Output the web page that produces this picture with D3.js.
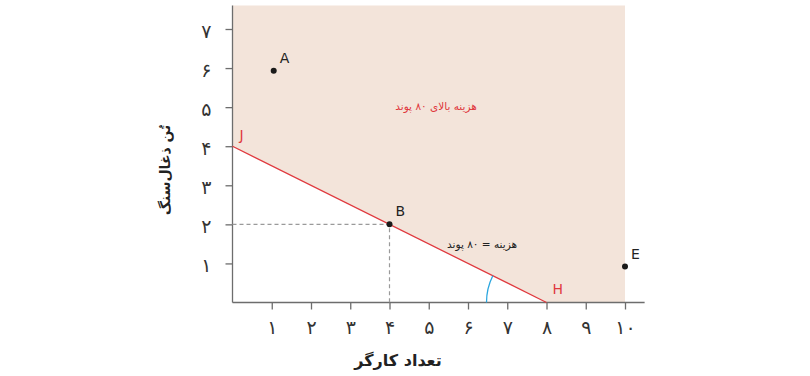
<!DOCTYPE html>
<html>
<head>
<meta charset="utf-8">
<script src="https://cdn.jsdelivr.net/npm/d3@7/dist/d3.min.js"></script>
<style>
  html, body { margin: 0; padding: 0; background: #fff; }
  svg text { font-family: "DejaVu Sans", "Noto Sans", sans-serif; }
</style>
</head>
<body>
<svg id="chart" width="810" height="376"></svg>
<script>
// Isocost line: combinations of workers and tonnes of coal costing £80
const xTickValues = [1, 2, 3, 4, 5, 6, 7, 8, 9, 10];
const xTickLabels = ["۱", "۲", "۳", "۴", "۵", "۶", "۷", "۸", "۹", "۱۰"];
const yTickValues = [1, 2, 3, 4, 5, 6, 7];
const yTickLabels = ["۱", "۲", "۳", "۴", "۵", "۶", "۷"];

const isocostX = [0, 8];
const isocostY = [4, 0];

const pointNames = ["A", "B", "E"];
const pointX = [1.05, 4, 10];
const pointY = [5.93, 2, 0.92];

const xTitle = "تعداد کارگر";
const yTitle = "تُن ذغال‌سنگ";
const aboveLabel = "هزینه بالای ۸۰ پوند";
const lineLabel = "هزینه = ۸۰ پوند";

const svg = d3.select("#chart");
const x = d3.scaleLinear().domain([0, 10]).range([232.5, 625]);
const y = d3.scaleLinear().domain([0, 7]).range([302.5, 29]);
const xMax = 10.5, yMax = 7.6;

// Region costing more than £80
const region = [
  [0, yMax], [10, yMax], [10, 0],
  [isocostX[1], isocostY[1]], [isocostX[0], isocostY[0]]
];
svg.append("path")
  .attr("d", d3.line().x(d => x(d[0])).y(d => y(d[1]))(region) + "Z")
  .attr("fill", "#f3e4da");

// Axes
const xAxis = d3.axisBottom(x).tickValues(xTickValues)
  .tickFormat((d, i) => xTickLabels[i]).tickSize(7).tickSizeOuter(0);
const gx = svg.append("g").attr("transform", `translate(0,${y(0)})`).call(xAxis);
gx.select(".domain").attr("d", `M${x(0)},0H${x(xMax)}`);
const yAxis = d3.axisLeft(y).tickValues(yTickValues)
  .tickFormat((d, i) => yTickLabels[i]).tickSize(7).tickSizeOuter(0);
const gy = svg.append("g").attr("transform", `translate(${x(0)},0)`).call(yAxis);
gy.select(".domain").attr("d", `M0,${y(0)}V${y(yMax)}`);

[gx, gy].forEach(g => {
  g.selectAll(".domain, .tick line").attr("stroke", "#6d6d6d").attr("stroke-width", 1.3);
  g.selectAll(".tick text").attr("fill", "#333").attr("font-size", 19);
});
gx.selectAll(".tick text").attr("y", 18).attr("dy", "0.71em");
gy.selectAll(".tick text").attr("x", -21).attr("dy", "0.45em");

// Guide lines to point B
const bx = pointX[1], by = pointY[1];
svg.append("path")
  .attr("d", `M${x(0)},${y(by)}H${x(bx)}V${y(0)}`)
  .attr("fill", "none").attr("stroke", "#9a9a9a")
  .attr("stroke-width", 1.2).attr("stroke-dasharray", "4,3");

// Isocost line
svg.append("line")
  .attr("x1", x(isocostX[0])).attr("y1", y(isocostY[0]))
  .attr("x2", x(isocostX[1])).attr("y2", y(isocostY[1]))
  .attr("stroke", "#e0393e").attr("stroke-width", 1.3);

// Slope angle marker at H
const hx = x(isocostX[1]), hy = y(isocostY[1]);
const ang = Math.atan2(y(isocostY[0]) - hy, x(isocostX[0]) - hx);
const r = 60;
svg.append("path")
  .attr("d", `M${hx - r},${hy}A${r},${r} 0 0 1 ${hx + r * Math.cos(ang)},${hy + r * Math.sin(ang)}`)
  .attr("fill", "none").attr("stroke", "#2aa6df").attr("stroke-width", 1.3);

// End labels
svg.append("text").attr("x", x(isocostX[0]) + 7).attr("y", y(isocostY[0]) - 6)
  .attr("fill", "#e0393e").attr("font-size", 14).text("J");
svg.append("text").attr("x", hx + 6).attr("y", hy - 9)
  .attr("fill", "#e0393e").attr("font-size", 14).text("H");

// Points
pointNames.forEach((n, i) => {
  svg.append("circle").attr("cx", x(pointX[i])).attr("cy", y(pointY[i]))
    .attr("r", 3).attr("fill", "#1a1a1a");
  svg.append("text").attr("x", x(pointX[i]) + 6).attr("y", y(pointY[i]) - 8)
    .attr("fill", "#222").attr("font-size", 14).text(n);
});

// Region and line annotations
svg.append("text").attr("x", 436).attr("y", 110).attr("text-anchor", "middle")
  .attr("direction", "rtl").attr("fill", "#e0393e").attr("font-size", 10.5)
  .text(aboveLabel);
svg.append("text").attr("x", 482).attr("y", 248).attr("text-anchor", "middle")
  .attr("direction", "rtl").attr("fill", "#222").attr("font-size", 10.5)
  .text(lineLabel);

// Axis titles
svg.append("text").attr("x", 398).attr("y", 366).attr("text-anchor", "middle")
  .attr("direction", "rtl").attr("fill", "#222").attr("font-size", 16)
  .attr("font-weight", "bold").text(xTitle);
svg.append("text").attr("transform", "translate(170,170) rotate(-90)")
  .attr("text-anchor", "middle").attr("direction", "rtl").attr("fill", "#222")
  .attr("font-size", 14).attr("font-weight", "bold").text(yTitle);
</script>
</body>
</html>
